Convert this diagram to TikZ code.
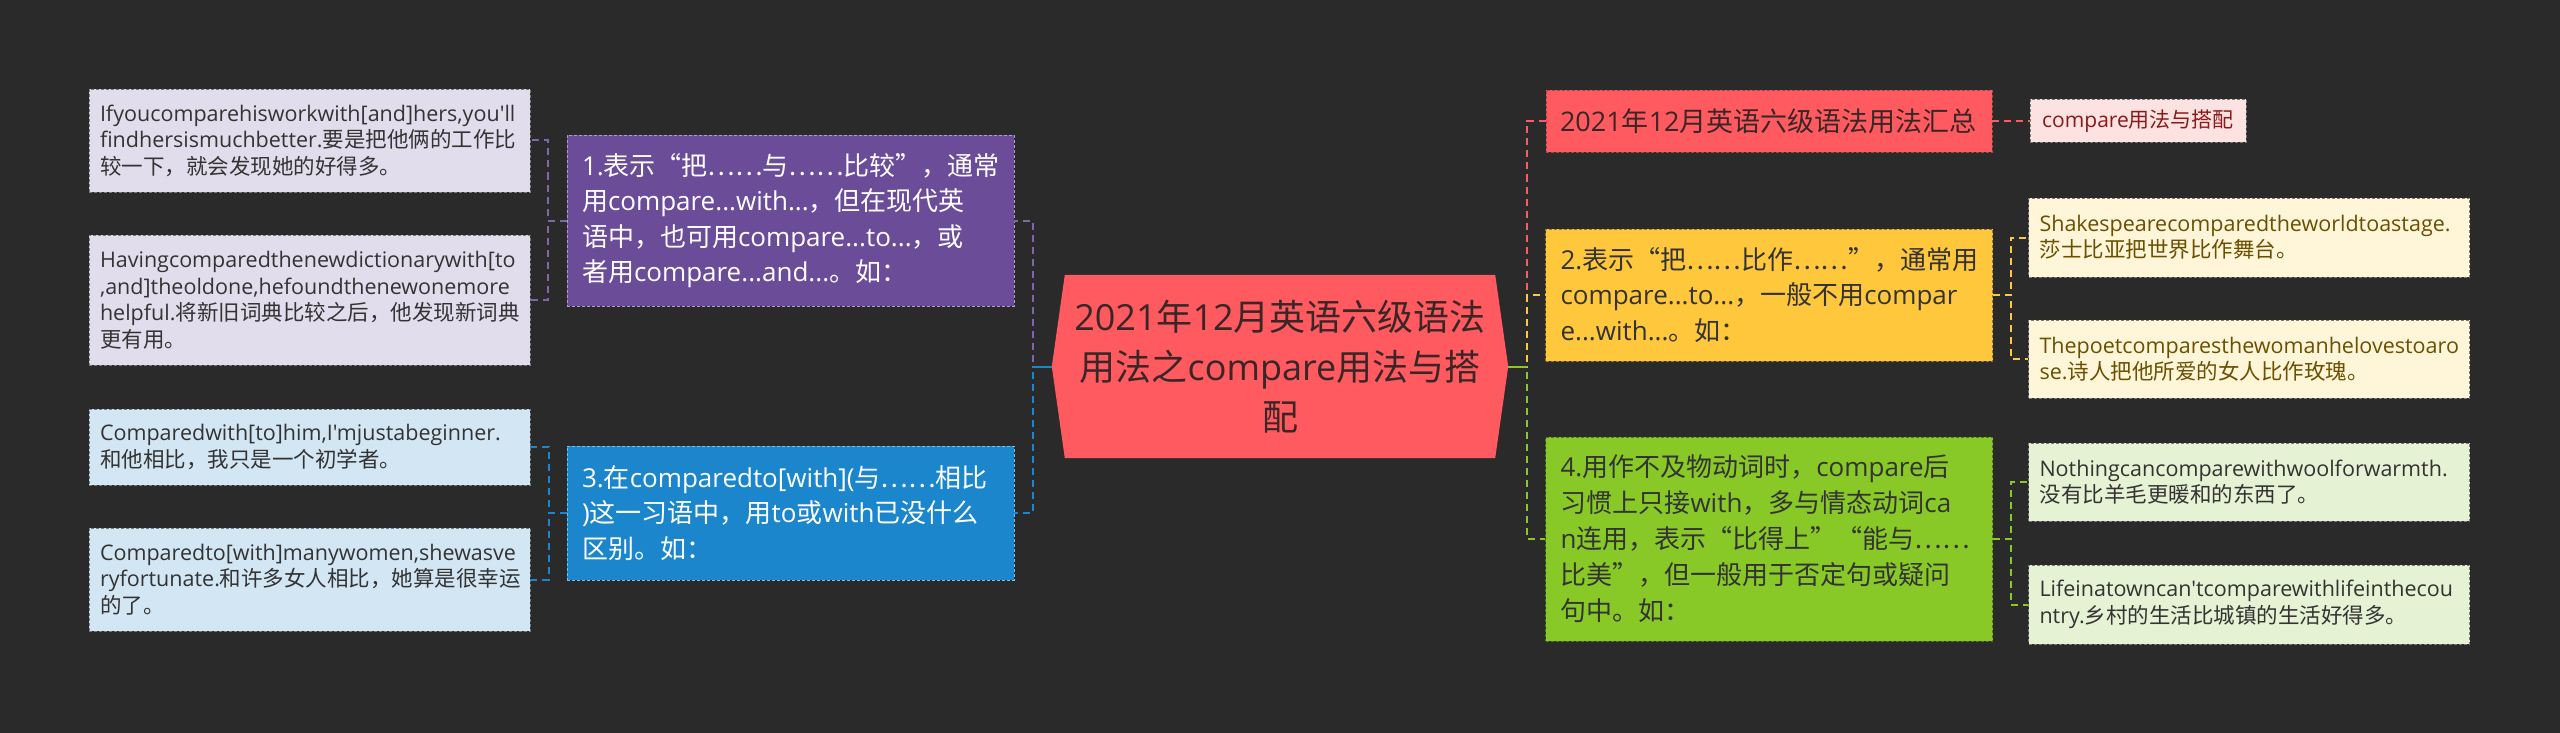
\documentclass[tikz,border=0pt]{standalone}
\usepackage{fontspec}
\setmainfont{Open Sans}
\newfontfamily\latinfont{Open Sans}
\newfontfamily\cjkfont{Noto Sans CJK SC}
\usetikzlibrary{backgrounds}
\newcount\cjkcc
\def\setcjkrange#1#2{\cjkcc=#1\relax\loop\XeTeXcharclass\cjkcc=7\relax\advance\cjkcc by 1\relax\ifnum\cjkcc<#2\relax\repeat}
\setcjkrange{"4E00}{"A000}
\setcjkrange{"3000}{"3040}
\setcjkrange{"FF00}{"FFF0}
\XeTeXcharclass"201C=7
\XeTeXcharclass"201D=7
\XeTeXcharclass"2026=7
\XeTeXinterchartoks 0 7 = {\cjkfont}
\XeTeXinterchartoks 4095 7 = {\cjkfont}
\XeTeXinterchartoks 7 0 = {\latinfont}
\XeTeXinterchartoks 4095 0 = {\latinfont}
\XeTeXinterchartokenstate=1
\hyphenpenalty=10000
\exhyphenpenalty=10000

\definecolor{bg}{HTML}{2A2A2A}
\definecolor{cred}{HTML}{FF5A5F}
\definecolor{ctext}{HTML}{3A2626}
\definecolor{cpurple}{HTML}{6A4C99}
\definecolor{pleaf}{HTML}{E2DDEC}
\definecolor{cblue}{HTML}{1C86CC}
\definecolor{bleaf}{HTML}{D3E6F3}
\definecolor{cyellow}{HTML}{FFC73C}
\definecolor{yleaf}{HTML}{FFF5D9}
\definecolor{ytext}{HTML}{6A5000}
\definecolor{cgreen}{HTML}{88C928}
\definecolor{gleaf}{HTML}{E6F2D4}
\definecolor{pinkleaf}{HTML}{FDE2E2}
\definecolor{pinktext}{HTML}{8A1A1A}
\definecolor{darktext}{HTML}{333333}
\definecolor{leafborder}{HTML}{7A7A7A}

\tikzset{
  box/.style={rectangle, draw=#1, line width=0.8pt, dash pattern=on 3pt off 2pt, inner ysep=0pt, align=left},
  box/.default=leafborder,
  leaf/.style={box=leafborder, font=\fontsize{21.5}{26.5}\selectfont, inner xsep=11pt, text width=419pt, text=darktext},
  mid/.style={box=#1, font=\fontsize{26}{35.5}\selectfont, inner xsep=15pt, text width=417pt},
  conn/.style={line width=2pt, dash pattern=on 7pt off 5pt},
}

\begin{document}
\begin{tikzpicture}[x=1pt, y=-1pt]
\useasboundingbox (0,0) rectangle (2560,733);

% central topic
\node[minimum width=456pt, minimum height=183pt, inner sep=0pt, text width=430pt, align=center,
      font=\fontsize{36}{50}\selectfont, text=ctext] (c) at (1280,366.5)
  {2021年12月英语六级语法\\用法之compare用法与搭\\配};

\begin{scope}[on background layer]
  \fill[bg] (0,0) rectangle (2560,733);
  \fill[cred] (c.west) -- ([xshift=13pt]c.north west) -- ([xshift=-13pt]c.north east) -- (c.east)
     -- ([xshift=-13pt]c.south east) -- ([xshift=13pt]c.south west) -- cycle;
\end{scope}

% left branches
\node[mid=cpurple!55!white, fill=cpurple, text=white, minimum height=171pt] (P1) at (790.5,220.5)
  {1.表示“把……与……比较”，通常\\用compare...with...，但在现代英\\语中，也可用compare...to...，或\\者用compare...and...。如：};
\node[mid=cblue!55!white, fill=cblue, text=white, minimum height=134pt] (B3) at (790.5,513)
  {3.在comparedto[with](与……相比\\)这一习语中，用to或with已没什么\\区别。如：};

\node[leaf, fill=pleaf, minimum height=103pt] (L1) at (309.5,140.5)
  {Ifyoucomparehisworkwith[and]hers,you'll\\findhersismuchbetter.要是把他俩的工作比\\较一下，就会发现她的好得多。};
\node[leaf, fill=pleaf, minimum height=130pt] (L2) at (309.5,300)
  {Havingcomparedthenewdictionarywith[to\\,and]theoldone,hefoundthenewonemore\\helpful.将新旧词典比较之后，他发现新词典\\更有用。};
\node[leaf, fill=bleaf, minimum height=76pt] (L3) at (309.5,447)
  {Comparedwith[to]him,I'mjustabeginner.\\和他相比，我只是一个初学者。};
\node[leaf, fill=bleaf, minimum height=103pt] (L4) at (309.5,579.5)
  {Comparedto[with]manywomen,shewasve\\ryfortunate.和许多女人相比，她算是很幸运\\的了。};

% right branches
\node[mid=cred!70!black, fill=cred, text=ctext, font=\fontsize{27}{34}\selectfont, inner xsep=14pt, text width=418pt, minimum height=62pt] (R0) at (1769,121)
  {2021年12月英语六级语法用法汇总};
\node[box=leafborder, fill=pinkleaf, text=pinktext, font=\fontsize{21}{26}\selectfont, inner xsep=10pt, text width=196pt, align=center, minimum height=43pt] (PK) at (2138,121)
  {compare用法与搭配};

\node[mid=cyellow!60!black, fill=cyellow, text=darktext, minimum height=132pt] (Y2) at (1769,295)
  {2.表示“把……比作……”，通常用\\compare...to...，一般不用compar\\e...with...。如：};
\node[mid=cgreen!60!black, fill=cgreen, text=darktext, minimum height=204pt, font=\fontsize{26}{36}\selectfont] (G4) at (1769,539)
  {4.用作不及物动词时，compare后\\习惯上只接with，多与情态动词ca\\n连用，表示“比得上”“能与……\\比美”，但一般用于否定句或疑问\\句中。如：};

\node[leaf, fill=yleaf, text=ytext, minimum height=79pt] (YA) at (2249,237.5)
  {Shakespearecomparedtheworldtoastage.\\莎士比亚把世界比作舞台。};
\node[leaf, fill=yleaf, text=ytext, minimum height=78pt] (YB) at (2249,359)
  {Thepoetcomparesthewomanhelovestoaro\\se.诗人把他所爱的女人比作玫瑰。};
\node[leaf, fill=gleaf, minimum height=78pt] (GC) at (2249,482)
  {Nothingcancomparewithwoolforwarmth.\\没有比羊毛更暖和的东西了。};
\node[leaf, fill=gleaf, minimum height=79pt] (GD) at (2249,604.5)
  {Lifeinatowncan'tcomparewithlifeinthecou\\ntry.乡村的生活比城镇的生活好得多。};

% connectors left
\draw[conn, cpurple!85!white] (c.west) -- ++(-19,0) |- (P1.east);
\draw[conn, cblue] (c.west) -- ++(-19,0) |- (B3.east);
\draw[cblue, line width=2pt] (c.west) -- ++(-19,0);
\draw[conn, cpurple!85!white] (P1.west) -- ++(-19,0) |- (L1.east);
\draw[conn, cpurple!85!white] (P1.west) -- ++(-19,0) |- (L2.east);
\draw[conn, cblue] (B3.west) -- ++(-18,0) |- (L3.east);
\draw[conn, cblue] (B3.west) -- ++(-18,0) |- (L4.east);

% connectors right
\draw[conn, cred] (c.east) -- ++(19,0) |- (R0.west);
\draw[conn, cyellow] (c.east) -- ++(19,0) |- (Y2.west);
\draw[conn, cgreen] (c.east) -- ++(19,0) |- (G4.west);
\draw[cgreen, line width=2pt] (c.east) -- ++(19,0);
\draw[conn, cred] (R0.east) -- (PK.west);
\draw[conn, cyellow] (Y2.east) -- ++(18,0) |- (YA.west);
\draw[conn, cyellow] (Y2.east) -- ++(18,0) |- (YB.west);
\draw[conn, cgreen] (G4.east) -- ++(18,0) |- (GC.west);
\draw[conn, cgreen] (G4.east) -- ++(18,0) |- (GD.west);
\end{tikzpicture}
\end{document}
